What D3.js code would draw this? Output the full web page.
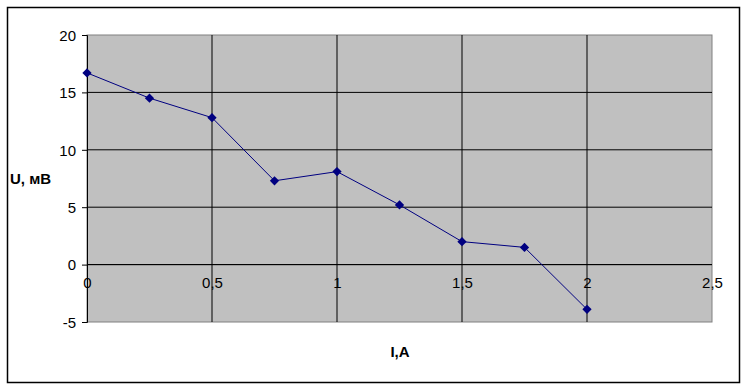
<!DOCTYPE html>
<html>
<head>
<meta charset="utf-8">
<script src="https://cdn.jsdelivr.net/npm/d3@7"></script>
<style>
  body { margin: 0; background: #fff; }
  text { font-family: "Liberation Sans", Arial, sans-serif; }
</style>
</head>
<body>
<div id="chart"></div>
<script>
// current, A
var current = [0, 0.25, 0.5, 0.75, 1, 1.25, 1.5, 1.75, 2];
// voltage, mV
var voltage = [16.7, 14.5, 12.8, 7.3, 8.1, 5.2, 2.0, 1.5, -3.9];
var xTicks = [0, 0.5, 1, 1.5, 2, 2.5];
var yTicks = [-5, 0, 5, 10, 15, 20];

var width = 747, height = 389;
var plotLeft = 87, plotTop = 35, plotRight = 712, plotBottom = 322;

var svg = d3.select("#chart")
  .append("svg")
  .attr("width", width)
  .attr("height", height);

// outer frame
svg.append("rect")
  .attr("x", 7.5).attr("y", 7.5)
  .attr("width", 732).attr("height", 375)
  .attr("fill", "#fff")
  .attr("stroke", "#000")
  .attr("stroke-width", 1.5);

var x = d3.scaleLinear().domain([0, 2.5]).range([plotLeft, plotRight]);
var y = d3.scaleLinear().domain([-5, 20]).range([plotBottom, plotTop]);

var fmt = function(d) { return String(d).replace(".", ","); };

// plot area
svg.append("rect")
  .attr("x", plotLeft).attr("y", plotTop)
  .attr("width", plotRight - plotLeft).attr("height", plotBottom - plotTop)
  .attr("fill", "#c0c0c0")
  .attr("stroke", "#808080")
  .attr("stroke-width", 1);

// gridlines
svg.append("g")
  .selectAll("line")
  .data(xTicks.slice(1, -1))
  .enter()
  .append("line")
  .attr("x1", function(d) { return x(d); })
  .attr("x2", function(d) { return x(d); })
  .attr("y1", plotTop).attr("y2", plotBottom)
  .attr("stroke", "#000");

svg.append("g")
  .selectAll("line")
  .data(yTicks.slice(1, -1))
  .enter()
  .append("line")
  .attr("x1", plotLeft).attr("x2", plotRight)
  .attr("y1", function(d) { return y(d); })
  .attr("y2", function(d) { return y(d); })
  .attr("stroke", "#000");

// y axis
var yAxis = svg.append("g")
  .attr("transform", "translate(" + plotLeft + ",0)")
  .call(d3.axisLeft(y).tickValues(yTicks).tickSize(5).tickPadding(6).tickFormat(fmt));
yAxis.select(".domain").attr("stroke", "#000");
yAxis.selectAll("text")
  .attr("font-size", 15)
  .attr("fill", "#000")
  .attr("dy", "0.35em");

// x axis along zero
var xAxis = svg.append("g")
  .attr("transform", "translate(0," + y(0) + ")")
  .call(d3.axisBottom(x).tickValues(xTicks).tickSize(0).tickPadding(18).tickFormat(fmt));
xAxis.select(".domain").attr("stroke", "#000").attr("d", "M" + plotLeft + ",0H" + plotRight);
xAxis.selectAll("text")
  .attr("font-size", 15)
  .attr("fill", "#000")
  .attr("dy", "0.35em");

// line
var line = d3.line()
  .x(function(d, i) { return x(current[i]); })
  .y(function(d) { return y(d); });

svg.append("path")
  .datum(voltage)
  .attr("d", line)
  .attr("fill", "none")
  .attr("stroke", "#000080")
  .attr("stroke-width", 1);

svg.append("g")
  .selectAll("path")
  .data(voltage)
  .enter()
  .append("path")
  .attr("d", d3.symbol().type(d3.symbolDiamond2).size(55))
  .attr("transform", function(d, i) {
    return "translate(" + x(current[i]) + "," + y(d) + ")";
  })
  .attr("fill", "#000080");

// axis titles
svg.append("text")
  .attr("x", 10).attr("y", 184)
  .attr("font-size", 15)
  .attr("font-weight", "bold")
  .text("U, мВ");

svg.append("text")
  .attr("x", 400).attr("y", 357)
  .attr("text-anchor", "middle")
  .attr("font-size", 15)
  .attr("font-weight", "bold")
  .text("I,A");
</script>
</body>
</html>
